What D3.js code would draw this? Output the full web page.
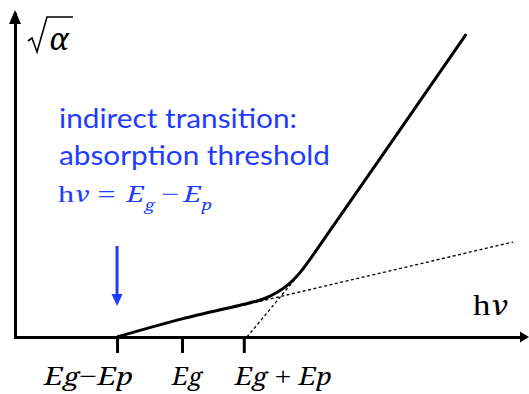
<!DOCTYPE html>
<html>
<head>
<meta charset="utf-8">
<script src="https://cdn.jsdelivr.net/npm/d3@7"></script>
<style>
  html, body { margin: 0; padding: 0; background: #fff; }
  svg { display: block; }
  .up { font-family: "Liberation Serif", "Times New Roman", serif; font-style: normal; }
  .it { font-family: "Noto Serif", "DejaVu Serif", serif; font-style: italic; }
</style>
</head>
<body>
<svg id="chart" width="529" height="394"></svg>
<script>
// Photon energy (hν) sample points along the absorption edge and the
// corresponding square-root absorption coefficient.
const curveHv    = [1.61, 2.635, 3.71, 3.95, 4.15, 4.32, 4.5, 5.0, 7.12];
const curveSqrtA = [0, 0.28, 0.53, 0.6, 0.7, 0.82, 1.0, 1.69, 4.69];

// Linear extrapolations of the two regimes (dotted guides).
const emissionFitHv    = [3.61, 7.86];
const emissionFitSqrtA = [0.495, 1.47];
const absorptionFitHv    = [3.66, 4.5];
const absorptionFitSqrtA = [0, 0.99];

// Characteristic energies marked on the hν axis.
const tickValues = [1.61, 2.635, 3.61];
const tickLabels = [
  [["E", "var"], ["g", "sub"], ["−", "op"], ["E", "var"], ["p", "sub"]],
  [["E", "var"], ["g", "sub"]],
  [["E", "var"], ["g", "sub"], [" + ", "op"], ["E", "var"], ["p", "sub"]]
];
const tickLabelOffset = [-73, -10, -9];
const tickLabelWidth = [89, 30, 97];

const annotationLines = ["indirect transition:", "absorption threshold"];
const annotationWidths = [238, 271];
const thresholdHv = 1.61;

const BLUE = "#1e3cff";
const SANS = "Lato, 'Open Sans', sans-serif";

const svg = d3.select("#chart");

const x = d3.scaleLinear().domain([0, 8]).range([15, 522]);
const y = d3.scaleLinear().domain([0, 5]).range([337, 14]);

// Axes
const xAxis = d3.axisBottom(x)
  .tickValues(tickValues)
  .tickSize(16)
  .tickSizeOuter(0)
  .tickFormat("");
const gx = svg.append("g").attr("transform", `translate(0,${y(0)})`).call(xAxis);
gx.select(".domain").attr("stroke", "#000").attr("stroke-width", 3).attr("stroke-linecap", "square");
gx.selectAll(".tick line").attr("stroke", "#000").attr("stroke-width", 3);

const yAxis = d3.axisLeft(y).tickValues([]).tickSizeOuter(0);
const gy = svg.append("g").attr("transform", `translate(${x(0)},0)`).call(yAxis);
gy.select(".domain").attr("stroke", "#000").attr("stroke-width", 3).attr("stroke-linecap", "square");

// Arrow heads on both axes
const xEnd = x.range()[1];
svg.append("path")
  .attr("d", `M${xEnd - 2},${y(0) - 5.5} L${xEnd + 7},${y(0)} L${xEnd - 2},${y(0) + 5.5} Z`)
  .attr("fill", "#000");
const yEnd = y.range()[1];
svg.append("path")
  .attr("d", `M${x(0) - 6},${yEnd + 10} L${x(0)},${yEnd - 4} L${x(0) + 6},${yEnd + 10} Z`)
  .attr("fill", "#000");

// Dotted extrapolations
const line = d3.line().x(d => x(d[0])).y(d => y(d[1]));
[[emissionFitHv, emissionFitSqrtA], [absorptionFitHv, absorptionFitSqrtA]].forEach(([hv, a]) => {
  svg.append("path")
    .datum(hv.map((v, i) => [v, a[i]]))
    .attr("d", line)
    .attr("fill", "none")
    .attr("stroke", "#000")
    .attr("stroke-width", 1.3)
    .attr("stroke-dasharray", "3,2.5");
});

// Absorption edge
svg.append("path")
  .datum(curveHv.map((v, i) => [v, curveSqrtA[i]]))
  .attr("d", d3.line().x(d => x(d[0])).y(d => y(d[1])).curve(d3.curveCatmullRom.alpha(0.5)))
  .attr("fill", "none")
  .attr("stroke", "#000")
  .attr("stroke-width", 3)
  .attr("stroke-linejoin", "round");

// Tick labels
tickValues.forEach((v, i) => {
  const t = svg.append("text")
    .attr("x", x(v) + tickLabelOffset[i])
    .attr("y", 385)
    .attr("font-size", 25)
    .attr("textLength", tickLabelWidth[i])
    .attr("lengthAdjust", "spacingAndGlyphs")
    .attr("fill", "#000");
  tickLabels[i].forEach(([s, kind]) => {
    const ts = t.append("tspan").attr("class", kind === "op" ? "up" : "it").text(s);
    if (kind === "sub") ts.attr("font-size", 24);
    if (kind === "op") ts.attr("font-size", 26);
  });
});

// Axis titles
const yTitle = svg.append("g").attr("transform", "translate(28,17)");
yTitle.append("path")
  .attr("d", "M0,24 L4,21 L9,35 L19,0 L45,0")
  .attr("fill", "none")
  .attr("stroke", "#000")
  .attr("stroke-width", 1.6)
  .attr("stroke-linejoin", "miter");
svg.append("text")
  .attr("class", "it")
  .attr("x", 49).attr("y", 50)
  .attr("font-size", 31).attr("fill", "#000")
  .text("α");

const xTitle = svg.append("text")
  .attr("x", 473).attr("y", 315)
  .attr("font-size", 29).attr("fill", "#000")
  .attr("textLength", 35)
  .attr("lengthAdjust", "spacingAndGlyphs");
xTitle.append("tspan").attr("class", "up").text("h");
xTitle.append("tspan").attr("class", "it").attr("font-size", 27).text("ν");

// Annotation
annotationLines.forEach((s, i) => {
  svg.append("text")
    .attr("x", 59).attr("y", 128 + i * 37)
    .attr("font-family", SANS).attr("font-size", 27)
    .attr("textLength", annotationWidths[i])
    .attr("lengthAdjust", "spacingAndGlyphs")
    .attr("fill", BLUE)
    .text(s);
});

const eq = svg.append("text")
  .attr("x", 58).attr("y", 202)
  .attr("font-size", 23).attr("fill", BLUE)
  .attr("textLength", 154)
  .attr("lengthAdjust", "spacingAndGlyphs");
eq.append("tspan").attr("class", "up").attr("font-size", 24).text("h");
eq.append("tspan").attr("class", "it").attr("font-size", 21).text("ν");
eq.append("tspan").attr("class", "up").attr("font-size", 24).attr("dx", 6).text("=");
eq.append("tspan").attr("class", "it").attr("font-size", 21).attr("dx", 8).text("E");
eq.append("tspan").attr("class", "it").attr("font-size", 14).attr("dy", 8).text("g");
eq.append("tspan").attr("class", "up").attr("font-size", 24).attr("dy", -8).attr("dx", 5).text("−");
eq.append("tspan").attr("class", "it").attr("font-size", 21).attr("dx", 3).text("E");
eq.append("tspan").attr("class", "it").attr("font-size", 14).attr("dy", 8).text("p");

// Arrow pointing at the threshold energy
const ax = x(thresholdHv);
svg.append("line")
  .attr("x1", ax).attr("x2", ax)
  .attr("y1", 246).attr("y2", 296)
  .attr("stroke", BLUE).attr("stroke-width", 3);
svg.append("path")
  .attr("d", `M${ax - 5.5},294 L${ax},306 L${ax + 5.5},294 Z`)
  .attr("fill", BLUE);
</script>
</body>
</html>
